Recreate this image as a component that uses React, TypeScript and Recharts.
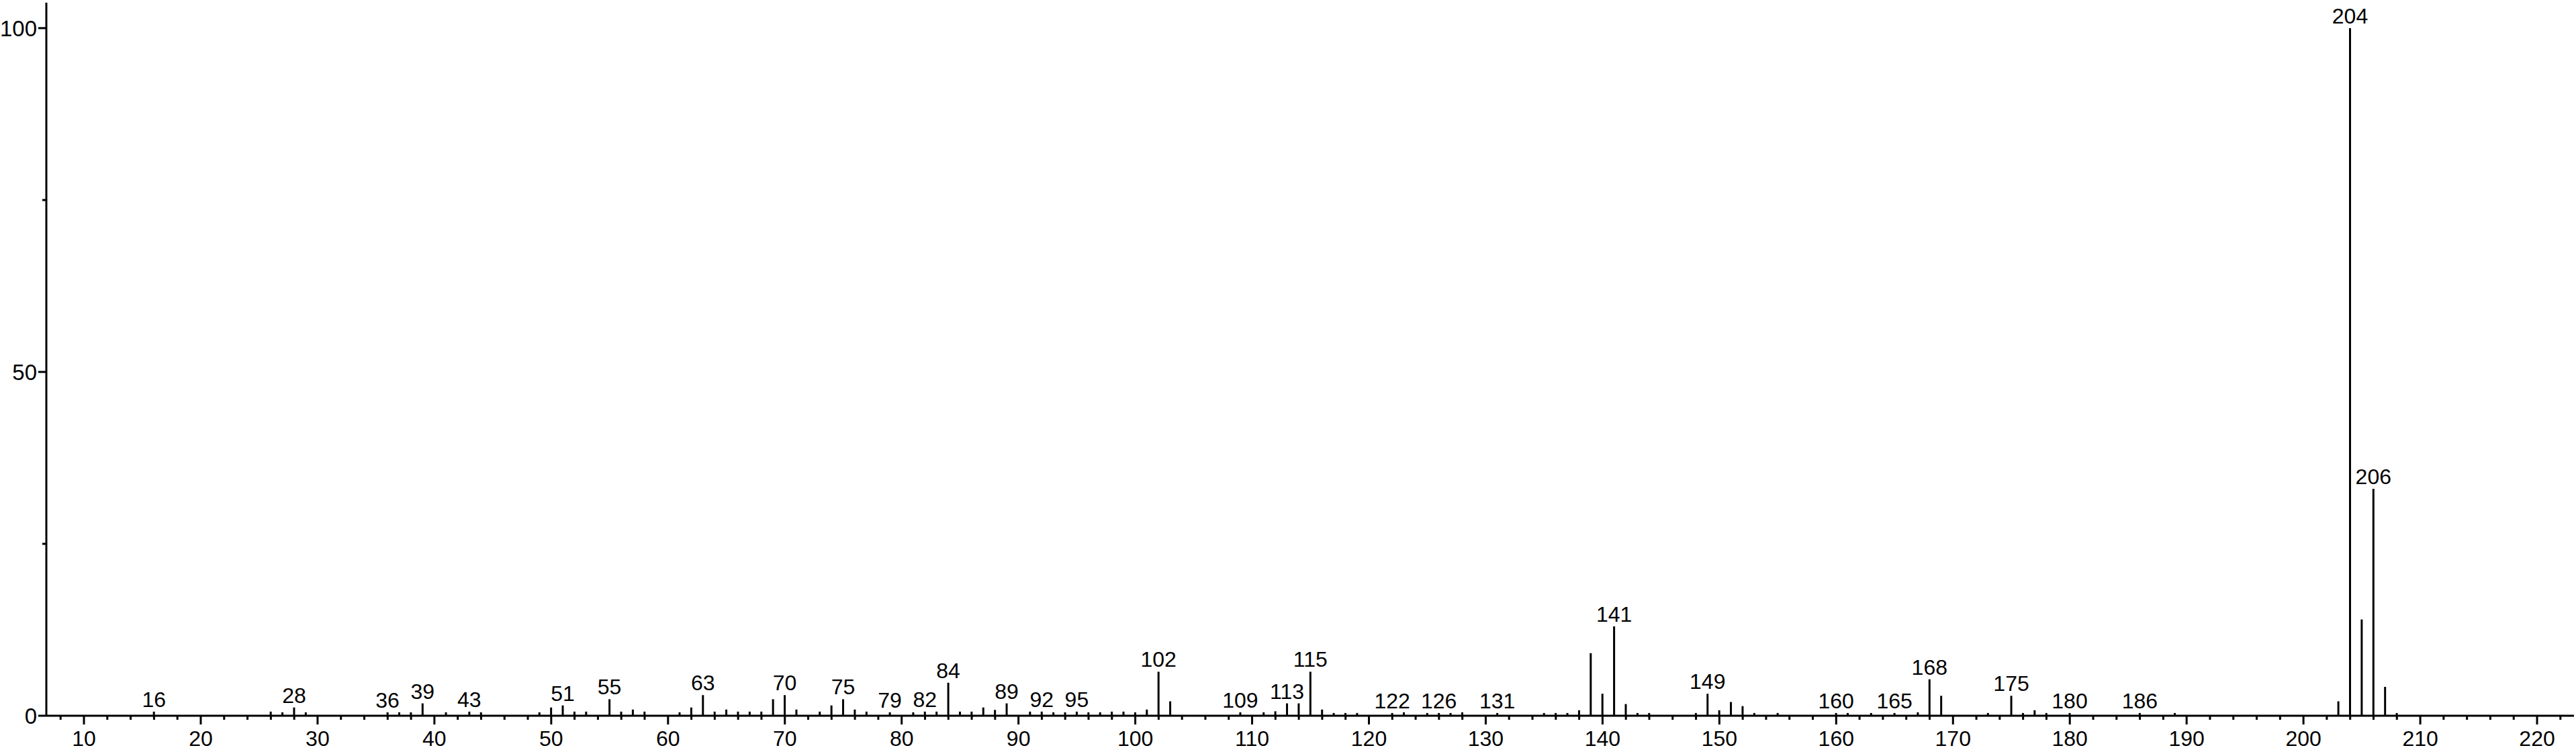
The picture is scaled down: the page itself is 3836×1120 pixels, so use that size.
import React from 'react';
import { ComposedChart, Bar, XAxis, YAxis, LabelList } from 'recharts';

// m/z values
const masses: number[] = [
  16, 26, 27, 28, 29, 36, 37, 38, 39, 41, 43, 44, 49, 50, 51, 52, 53, 55, 56, 57, 58,
  61, 62, 63, 64, 65, 66, 67, 68, 69, 70, 71, 73, 74, 75, 76, 77, 79, 81, 82, 83, 84,
  85, 86, 87, 88, 89, 91, 92, 93, 94, 95, 96, 97, 98, 99, 100, 101, 102, 103, 109, 111,
  112, 113, 114, 115, 116, 117, 118, 119, 122, 123, 125, 126, 127, 128, 131, 135, 136,
  137, 138, 139, 140, 141, 142, 143, 144, 148, 149, 150, 151, 152, 153, 155, 160, 161,
  163, 165, 167, 168, 169, 173, 175, 176, 177, 178, 180, 186, 189, 203, 204, 205, 206,
  207, 208,
];

// relative intensities (%)
const intensities: number[] = [
  0.6, 0.6, 0.5, 1.2, 0.5, 0.5, 0.5, 0.5, 1.8, 0.5, 0.6, 0.5, 0.5, 1.2, 1.5, 0.6, 0.6, 2.4, 0.6, 0.9, 0.6,
  0.5, 1.2, 3.0, 0.6, 0.9, 0.6, 0.6, 0.6, 2.4, 3.0, 0.9, 0.6, 1.5, 2.4, 0.9, 0.6, 0.5, 0.5, 0.6, 0.6, 4.8,
  0.6, 0.6, 1.2, 0.85, 1.8, 0.6, 0.6, 0.5, 0.5, 0.6, 0.5, 0.5, 0.6, 0.6, 0.5, 0.9, 6.4, 2.1, 0.5, 0.5,
  0.65, 1.8, 1.8, 6.4, 0.9, 0.4, 0.4, 0.4, 0.4, 0.5, 0.4, 0.4, 0.4, 0.5, 0.4, 0.4, 0.4,
  0.4, 0.8, 9.1, 3.2, 13.0, 1.7, 0.4, 0.4, 0.4, 3.2, 0.8, 2.0, 1.4, 0.4, 0.4, 0.4, 0.4,
  0.4, 0.4, 0.5, 5.3, 2.9, 0.4, 2.9, 0.4, 0.8, 0.4, 0.4, 0.4, 0.4, 2.1, 100, 14, 33,
  4.2, 0.4,
];

// peaks annotated with their m/z
const labeledMasses: number[] = [
  16, 28, 36, 39, 43, 51, 55, 63, 70, 75, 79, 82, 84, 89, 92, 95, 102, 109, 113, 115,
  122, 126, 131, 141, 149, 160, 165, 168, 175, 180, 186, 204, 206,
];

const xTicks: number[] = [];
for (let v = 8; v <= 222; v += 2) xTicks.push(v);
const yTicks: number[] = [0, 25, 50, 75, 100];
const yLabeled: number[] = [0, 50, 100];

const data = masses.map((m, i) => ({
  mz: m,
  intensity: intensities[i],
  label: labeledMasses.includes(m) ? String(m) : '',
}));

const FONT = '"Liberation Sans", Arial, Helvetica, sans-serif';

const XTick = (props: any) => {
  const { x, y, payload } = props;
  const v = payload.value;
  const major = v % 10 === 0;
  return (
    <g>
      <line x1={x} y1={y} x2={x} y2={y + (major ? 13 : 6)} stroke="#000" strokeWidth={3} />
      {major && (
        <text x={x} y={y + 45} textAnchor="middle" fontSize={32} fontFamily={FONT} fill="#000">
          {v}
        </text>
      )}
    </g>
  );
};

const YTick = (props: any) => {
  const { x, y, payload } = props;
  const v = payload.value;
  const major = yLabeled.includes(v);
  return (
    <g>
      <line x1={x - (major ? 12 : 6)} y1={y} x2={x} y2={y} stroke="#000" strokeWidth={3} />
      {major && (
        <text x={x - 14} y={y + 12} textAnchor="end" fontSize={33} fontFamily={FONT} fill="#000">
          {v}
        </text>
      )}
    </g>
  );
};

const PeakLabel = (props: any) => {
  const { x, y, width, value } = props;
  if (!value) return null;
  return (
    <text x={x + width / 2} y={y - 7} textAnchor="middle" fontSize={32} fontFamily={FONT} fill="#000">
      {value}
    </text>
  );
};

export default function App() {
  return (
    <div style={{ position: 'absolute', left: 0, top: 0, width: 3836, height: 1120, background: '#fff' }}>
      <ComposedChart
        width={3836}
        height={1120}
        data={data}
        margin={{ top: 4, right: 3, bottom: 0, left: 0 }}
      >
        <XAxis
          dataKey="mz"
          type="number"
          domain={[6.78, 223.16]}
          allowDataOverflow
          ticks={xTicks}
          interval={0}
          tickSize={0}
          tickMargin={0}
          height={54}
          axisLine={{ stroke: '#000', strokeWidth: 3 }}
          tickLine={false}
          tick={<XTick />}
        />
        <YAxis
          type="number"
          domain={[0, 103.7]}
          allowDataOverflow
          ticks={yTicks}
          interval={0}
          tickSize={0}
          tickMargin={0}
          width={69}
          axisLine={{ stroke: '#000', strokeWidth: 3 }}
          tickLine={false}
          tick={<YTick />}
        />
        <Bar dataKey="intensity" fill="#000" barSize={3} isAnimationActive={false}>
          <LabelList dataKey="label" content={<PeakLabel />} />
        </Bar>
      </ComposedChart>
    </div>
  );
}
